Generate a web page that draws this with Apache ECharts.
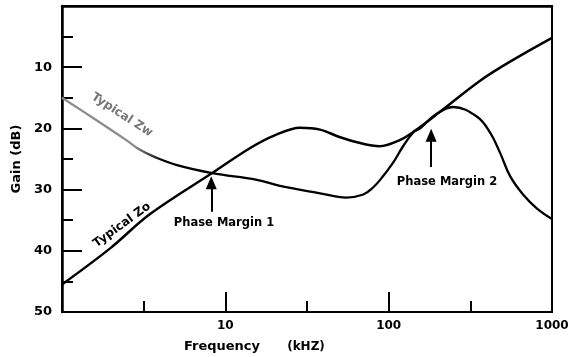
<!DOCTYPE html>
<html>
<head>
<meta charset="utf-8">
<script src="https://cdn.jsdelivr.net/npm/echarts@6/dist/echarts.min.js"></script>
<style>
html,body{margin:0;padding:0;background:#fff;}
#c{width:576px;height:357px;}
</style>
</head>
<body>
<div id="c"></div>
<script>
// ---- data (frequency in kHz, gain in dB) ----
const zoFreq = [1, 1.97, 3.46, 8.3, 14.2, 20.2, 28.7, 38, 50, 67, 88, 117, 141, 206, 363, 578, 1000];
const zoGain = [45.5, 39.6, 34.0, 27.3, 23.2, 21.1, 19.9, 20.2, 21.4, 22.4, 22.9, 21.9, 20.6, 17.3, 12.2, 8.8, 5.2];

const zwFreq = [1, 1.55, 2.5, 3.0, 3.71, 5.06, 8.3, 15.6, 21.6, 38, 55, 70, 80, 90, 107, 122, 141, 156, 192, 248, 348, 418, 481, 554, 665, 810, 1000];
const zwGain = [15.0, 18.3, 22.0, 23.5, 24.7, 26.0, 27.3, 28.4, 29.4, 30.6, 31.3, 30.8, 29.7, 28.2, 25.5, 23.0, 20.7, 20.0, 17.8, 16.5, 18.1, 20.7, 24.0, 27.8, 30.8, 33.1, 34.8];

const xLabels = ['10', '100', '1000'];
const yLabels = ['10', '20', '30', '40', '50'];

// arrows: [freq, gainStart, gainEnd]
const pm1Arrow = [8.2, 33.6, 28.9];
const pm2Arrow = [182, 26.3, 21.1];

const zip = (a, b) => a.map((v, i) => [v, b[i]]);

const FONT = 'DejaVu Sans';
const chart = echarts.init(document.getElementById('c'), null, {renderer: 'canvas'});

const arrowMark = (a) => ({
  silent: true,
  symbol: ['none', 'triangle'],
  symbolSize: [11, 13],
  label: {show: false},
  lineStyle: {color: '#000', width: 2, type: 'solid'},
  data: [[{coord: [a[0], a[1]]}, {coord: [a[0], a[2]]}]]
});

const G = {left: 62, top: 6, right: 24, bottom: 45};

chart.setOption({
  animation: false,
  backgroundColor: '#fff',
  grid: [
    Object.assign({show: true, borderColor: '#000', borderWidth: 2, backgroundColor: 'transparent'}, G),
    Object.assign({show: false}, G)
  ],
  xAxis: [{
    gridIndex: 0, type: 'log', logBase: 10, min: 1, max: 1000, position: 'bottom',
    axisLine: {lineStyle: {color: '#000', width: 2.5}},
    axisTick: {show: false},
    axisLabel: {
      color: '#000', fontFamily: FONT, fontWeight: 'bold', fontSize: 12, margin: 8,
      formatter: (v) => xLabels.indexOf(String(Math.round(v))) >= 0 ? String(Math.round(v)) : ''
    },
    splitLine: {show: false}
  }, {
    // decade ticks (log10 of frequency) drawn on an overlaid grid
    gridIndex: 1, type: 'value', min: 0, max: 3, interval: 1, position: 'bottom',
    axisLine: {show: false},
    axisTick: {show: true, inside: true, length: 20, lineStyle: {color: '#000', width: 2}},
    minorTick: {show: true, splitNumber: 2, length: 11, lineStyle: {color: '#000', width: 2}},
    axisLabel: {show: false},
    splitLine: {show: false}
  }],
  yAxis: [{
    gridIndex: 0, type: 'value', inverse: true, min: 0, max: 50, interval: 10,
    name: 'Gain (dB)', nameLocation: 'middle', nameGap: 38, nameRotate: 90,
    nameTextStyle: {color: '#000', fontFamily: FONT, fontWeight: 'bold', fontSize: 13},
    axisLine: {lineStyle: {color: '#000', width: 2.5}},
    axisTick: {inside: true, length: 20, lineStyle: {color: '#000', width: 2}},
    minorTick: {show: true, splitNumber: 2, length: 11, lineStyle: {color: '#000', width: 2}},
    axisLabel: {
      color: '#000', fontFamily: FONT, fontWeight: 'bold', fontSize: 13, margin: 10,
      formatter: (v) => yLabels.indexOf(String(v)) >= 0 ? String(v) : ''
    },
    splitLine: {show: false}
  }, {
    gridIndex: 1, type: 'value', min: 0, max: 1, show: false
  }],
  series: [{
    name: 'Typical Zo', type: 'line', xAxisIndex: 0, yAxisIndex: 0, data: zip(zoFreq, zoGain),
    smooth: 0.35, showSymbol: false, symbol: 'none',
    lineStyle: {color: '#000', width: 2.5},
    markLine: arrowMark(pm1Arrow)
  }, {
    name: 'Typical Zw', type: 'line', xAxisIndex: 0, yAxisIndex: 0, data: zip(zwFreq, zwGain),
    smooth: 0.4, showSymbol: false, symbol: 'none',
    lineStyle: {
      width: 2.3,
      color: new echarts.graphic.LinearGradient(0, 0, 1, 0, [
        {offset: 0, color: '#8c8c8c'}, {offset: 0.15, color: '#8c8c8c'},
        {offset: 0.21, color: '#000'}, {offset: 1, color: '#000'}
      ])
    },
    markLine: arrowMark(pm2Arrow)
  }],
  graphic: [
    {type: 'text', x: 122, y: 115, rotation: -33 * Math.PI / 180,
     style: {text: 'Typical Zw', fill: '#777', font: 'bold 12px "DejaVu Sans"', align: 'center', verticalAlign: 'middle'}},
    {type: 'text', x: 122, y: 225, rotation: 36 * Math.PI / 180,
     style: {text: 'Typical Zo', fill: '#000', font: 'bold 12px "DejaVu Sans"', align: 'center', verticalAlign: 'middle'}},
    {type: 'text', x: 224, y: 223,
     style: {text: 'Phase Margin 1', fill: '#000', font: 'bold 11.5px "DejaVu Sans"', align: 'center', verticalAlign: 'middle'}},
    {type: 'text', x: 447, y: 182,
     style: {text: 'Phase Margin 2', fill: '#000', font: 'bold 11.5px "DejaVu Sans"', align: 'center', verticalAlign: 'middle'}},
    {type: 'text', x: 222, y: 347,
     style: {text: 'Frequency', fill: '#000', font: 'bold 13px "DejaVu Sans"', align: 'center', verticalAlign: 'middle'}},
    {type: 'text', x: 306, y: 347,
     style: {text: '(kHZ)', fill: '#000', font: 'bold 12px "DejaVu Sans"', align: 'center', verticalAlign: 'middle'}}
  ]
});
</script>
</body>
</html>
